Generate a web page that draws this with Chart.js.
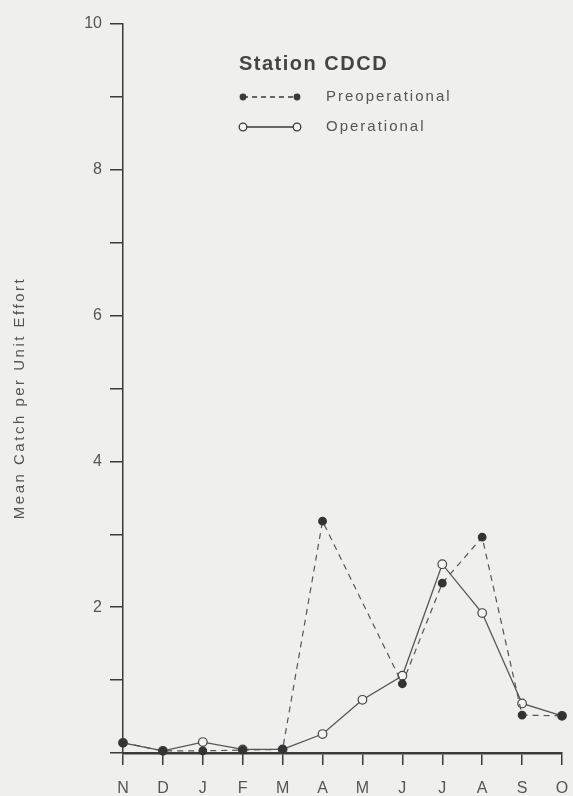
<!DOCTYPE html>
<html lang="en">
  <head>
    <meta charset="UTF-8" />
    <title>Station CDCD</title>
    <script src="https://cdn.jsdelivr.net/npm/chart.js"></script>
    <style>
      html, body { margin: 0; padding: 0; background: #efefed; }
      canvas { display: block; }
    </style>
  </head>
  <body>
    <canvas id="myChart" width="573" height="796"></canvas>

    <script>
      // months Nov -> Oct
      const months = ['N', 'D', 'J', 'F', 'M', 'A', 'M', 'J', 'J', 'A', 'S', 'O'];
      // no preoperational sample in May
      const preoperational = [0.14, 0.03, 0.03, 0.04, 0.05, 3.18, null, 0.95, 2.33, 2.96, 0.52, 0.51];
      const operational = [0.14, 0.03, 0.15, 0.05, 0.05, 0.26, 0.73, 1.06, 2.59, 1.92, 0.68, 0.51];
      const yLabels = [2, 4, 6, 8, 10];

      const ink = '#3a3a3a';
      const textGray = '#555';
      const fontFam = '"Liberation Sans", Arial, sans-serif';

      // legend + rotated axis title, drawn by hand like the original figure
      const legendBox = {
        id: 'legendBox',
        afterDraw(chart) {
          const c = chart.ctx;
          c.save();
          c.textBaseline = 'middle';
          c.fillStyle = '#444';
          c.letterSpacing = '1.5px';
          c.font = 'bold 20px ' + fontFam;
          c.fillText('Station CDCD', 239, 64);

          c.letterSpacing = '2px';
          c.font = '15px ' + fontFam;
          c.fillStyle = textGray;
          c.fillText('Preoperational', 326, 97);
          c.fillText('Operational', 326, 127);

          // y axis title
          c.save();
          c.translate(20, 398);
          c.rotate(-Math.PI / 2);
          c.textAlign = 'center';
          c.letterSpacing = '2.5px';
          c.font = '15px ' + fontFam;
          c.fillText('Mean Catch per Unit Effort', 0, 0);
          c.restore();

          c.letterSpacing = '0px';
          c.strokeStyle = ink;
          c.lineWidth = 1.3;
          c.setLineDash([5, 4]);
          c.beginPath(); c.moveTo(243, 97); c.lineTo(297, 97); c.stroke();
          c.setLineDash([]);
          c.beginPath(); c.moveTo(243, 127); c.lineTo(297, 127); c.stroke();

          c.fillStyle = ink;
          [243, 297].forEach(x => { c.beginPath(); c.arc(x, 97, 3.4, 0, Math.PI * 2); c.fill(); });
          c.fillStyle = '#f4f4f2';
          [243, 297].forEach(x => { c.beginPath(); c.arc(x, 127, 3.8, 0, Math.PI * 2); c.fill(); c.stroke(); });
          c.restore();
        }
      };

      const ctx = document.getElementById('myChart').getContext('2d');
      const myChart = new Chart(ctx, {
        type: 'line',
        data: {
          labels: months,
          datasets: [
            {
              label: 'Preoperational',
              data: preoperational,
              spanGaps: true,
              borderColor: '#555',
              borderWidth: 1.2,
              borderDash: [6, 5],
              pointRadius: 3.8,
              pointBackgroundColor: '#333',
              pointBorderColor: '#333',
              tension: 0,
              clip: false
            },
            {
              label: 'Operational',
              data: operational,
              borderColor: '#555',
              borderWidth: 1.3,
              pointRadius: 4.3,
              pointBackgroundColor: '#f4f4f2',
              pointBorderColor: '#444',
              pointBorderWidth: 1.2,
              tension: 0,
              clip: false
            }
          ]
        },
        options: {
          responsive: false,
          animation: false,
          layout: { padding: { left: 0, right: 11, top: 24, bottom: 0 } },
          plugins: {
            legend: { display: false },
            tooltip: { enabled: false }
          },
          scales: {
            x: {
              offset: false,
              afterFit(scale) {
                scale.height = 43;
                scale.paddingLeft = 0;
                scale.paddingRight = 0;
              },
              grid: {
                drawOnChartArea: false,
                drawTicks: true,
                tickLength: 12,
                color: ink,
                lineWidth: 1.5
              },
              border: { color: ink, width: 2.5 },
              ticks: {
                color: textGray,
                font: { size: 16, family: fontFam },
                padding: 14,
                autoSkip: false,
                maxRotation: 0
              }
            },
            y: {
              min: 0,
              max: 10,
              afterFit(scale) { scale.width = 123; },
              grid: {
                drawOnChartArea: false,
                drawTicks: true,
                tickLength: 13,
                color: ink,
                lineWidth: 1.5
              },
              border: { color: ink, width: 1.5 },
              ticks: {
                stepSize: 1,
                color: textGray,
                font: { size: 16, family: fontFam },
                padding: 8,
                callback: v => (yLabels.includes(v) ? String(v) : '')
              }
            }
          }
        },
        plugins: [legendBox]
      });
    </script>
  </body>
</html>
